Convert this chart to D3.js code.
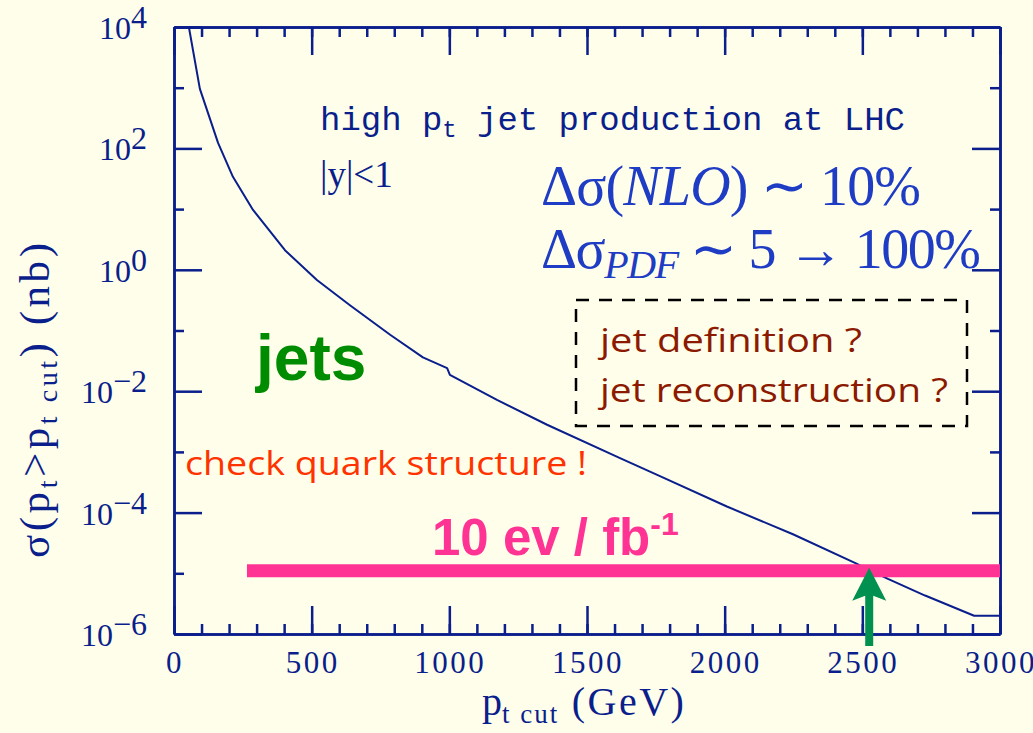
<!DOCTYPE html>
<html lang="en">
<head>
<meta charset="utf-8">
<title>high pt jet production at LHC</title>
<script src="https://cdn.jsdelivr.net/npm/d3@7"></script>
<style>
  body { margin: 0; background: #fffeea; }
  svg { display: block; }
</style>
</head>
<body>
<script>
  // size of the page
  const w = 1033;
  const h = 733;

  // pt cut (GeV) and sigma(pt > pt cut) in nb
  const ptCut = [54, 94, 120, 160, 214, 287, 403, 519, 639, 785, 904, 992, 1002, 1173,
                 1355, 1620, 1765, 2008, 2248, 2473, 2593, 2728, 2906, 3000];
  const sigma = [1e4, 955, 427, 123, 34, 9.7, 2.1, 0.68, 0.26, 0.085, 0.036, 0.024, 0.0186,
                 0.0072, 0.0028, 7.9e-4, 4.0e-4, 1.26e-4, 4.4e-5, 1.48e-5, 8.1e-6,
                 4.3e-6, 2.0e-6, 2.0e-6];

  // ticks
  const xMajor = [0, 500, 1000, 1500, 2000, 2500, 3000];
  const xMinor = d3.range(0, 3001, 100);
  const yMajorExp = [4, 2, 0, -2, -4, -6];
  const yMinorExp = [3, 1, -1, -3, -5];

  // 10 events / fb^-1 line and where it meets the curve
  const lumiLevel = 1.1e-5;
  const lumiFrom = 265;
  const lumiTo = 3000;
  const crossPt = 2525;

  const blue = "#0a1e8c";

  const svg = d3.select("body").append("svg")
    .attr("width", w)
    .attr("height", h);

  svg.append("rect").attr("width", w).attr("height", h).attr("fill", "#fffeea");

  const x = d3.scaleLinear().domain([0, 3000]).range([174, 1000]);
  const y = d3.scaleLog().domain([1e-6, 1e4]).range([634, 27]);

  // axes, ticks pointing inwards on all four sides
  function styleAxis(g) {
    g.selectAll("path, line").attr("stroke", blue).attr("stroke-width", 2.5);
    g.selectAll("text").remove();
  }
  const yBottom = y.range()[0], yTop = y.range()[1];
  const xLeft = x.range()[0], xRight = x.range()[1];

  svg.append("g").attr("transform", `translate(0,${yBottom})`)
    .call(d3.axisBottom(x).tickValues(xMinor).tickSize(-10).tickSizeOuter(0)).call(styleAxis);
  svg.append("g").attr("transform", `translate(0,${yBottom})`)
    .call(d3.axisBottom(x).tickValues(xMajor).tickSize(-28).tickSizeOuter(0)).call(styleAxis);
  svg.append("g").attr("transform", `translate(0,${yTop})`)
    .call(d3.axisTop(x).tickValues(xMinor).tickSize(-10).tickSizeOuter(0)).call(styleAxis);
  svg.append("g").attr("transform", `translate(0,${yTop})`)
    .call(d3.axisTop(x).tickValues(xMajor).tickSize(-28).tickSizeOuter(0)).call(styleAxis);

  const yMajor = yMajorExp.map(e => Math.pow(10, e));
  const yMinor = yMinorExp.map(e => Math.pow(10, e));
  svg.append("g").attr("transform", `translate(${xLeft},0)`)
    .call(d3.axisLeft(y).tickValues(yMinor).tickSize(-10).tickSizeOuter(0)).call(styleAxis);
  svg.append("g").attr("transform", `translate(${xLeft},0)`)
    .call(d3.axisLeft(y).tickValues(yMajor).tickSize(-28).tickSizeOuter(0)).call(styleAxis);
  svg.append("g").attr("transform", `translate(${xRight},0)`)
    .call(d3.axisRight(y).tickValues(yMinor).tickSize(-10).tickSizeOuter(0)).call(styleAxis);
  svg.append("g").attr("transform", `translate(${xRight},0)`)
    .call(d3.axisRight(y).tickValues(yMajor).tickSize(-28).tickSizeOuter(0)).call(styleAxis);

  // x tick labels
  svg.append("g").selectAll("text")
    .data(xMajor)
    .enter().append("text")
    .attr("x", d => x(d) + 1)
    .attr("y", yBottom + 39)
    .attr("text-anchor", "middle")
    .attr("font-family", "Liberation Serif")
    .attr("font-size", 31)
    .attr("letter-spacing", 2.5)
    .attr("fill", blue)
    .text(d => d);

  // y tick labels 10^n
  const yl = svg.append("g").selectAll("text")
    .data(yMajorExp)
    .enter().append("text")
    .attr("x", 147)
    .attr("y", d => y(Math.pow(10, d)) + 12)
    .attr("text-anchor", "end")
    .attr("font-family", "Liberation Serif")
    .attr("font-size", 32)
    .attr("fill", blue);
  yl.append("tspan").text("10");
  yl.append("tspan").attr("dy", -11).text(d => String(d).replace("-", "\u2212"));

  // axis titles
  const xt = svg.append("text")
    .attr("x", 482).attr("y", 715)
    .attr("font-family", "Liberation Serif")
    .attr("font-size", 40)
    .attr("fill", blue);
  xt.append("tspan").text("p");
  xt.append("tspan").attr("dy", 8).attr("font-size", 27).attr("letter-spacing", 2).text("t cut");
  xt.append("tspan").attr("dy", -8).attr("letter-spacing", 2.5).text(" (GeV)");

  const yt = svg.append("text")
    .attr("transform", "translate(49,558) rotate(-90)")
    .attr("font-family", "Liberation Serif")
    .attr("font-size", 43)
    .attr("fill", blue)
    .attr("textLength", 315)
    .attr("lengthAdjust", "spacing");
  yt.append("tspan").text("\u03c3(p");
  yt.append("tspan").attr("dy", 8).attr("font-size", 28).text("t");
  yt.append("tspan").attr("dy", -8).text(">p");
  yt.append("tspan").attr("dy", 8).attr("font-size", 28).text("t cut");
  yt.append("tspan").attr("dy", -8).text(")  (nb)");

  // cross section curve
  const curve = ptCut.map((p, i) => [p, sigma[i]]);
  svg.append("path")
    .datum(curve)
    .attr("fill", "none")
    .attr("stroke", blue)
    .attr("stroke-width", 2)
    .attr("stroke-linejoin", "round")
    .attr("d", d3.line().x(d => x(d[0])).y(d => y(d[1])));

  // 10 ev / fb^-1 line
  svg.append("line")
    .attr("x1", x(lumiFrom)).attr("x2", x(lumiTo))
    .attr("y1", y(lumiLevel)).attr("y2", y(lumiLevel))
    .attr("stroke", "#ff3393")
    .attr("stroke-width", 13);

  const lumiText = svg.append("text")
    .attr("x", 432).attr("y", 555)
    .attr("font-family", "Liberation Sans")
    .attr("font-weight", "bold")
    .attr("font-size", 51)
    .attr("fill", "#ff3393");
  lumiText.append("tspan").text("10 ev / fb");
  lumiText.append("tspan").attr("dy", -20).attr("font-size", 32).text("-1");

  // green arrow up to the crossing point
  const ax = x(crossPt);
  const tip = y(lumiLevel) - 3;
  const base = yBottom + 12;
  svg.append("path")
    .attr("d", `M${ax},${tip} L${ax + 17},${tip + 33} L${ax + 4},${tip + 28} L${ax + 4},${base}
                L${ax - 4},${base} L${ax - 4},${tip + 28} L${ax - 17},${tip + 33} Z`)
    .attr("fill", "#009150");

  // annotations
  svg.append("text")
    .attr("x", 320).attr("y", 130)
    .attr("font-family", "Liberation Mono")
    .attr("font-size", 34)
    .attr("fill", blue)
    .attr("textLength", 585)
    .attr("lengthAdjust", "spacing")
    .call(t => {
      t.append("tspan").text("high p");
      t.append("tspan").attr("dy", 7).attr("font-size", 24).text("t");
      t.append("tspan").attr("dy", -7).text(" jet production at LHC");
    });

  svg.append("text")
    .attr("x", 320).attr("y", 187)
    .attr("font-family", "Liberation Serif")
    .attr("font-size", 37)
    .attr("fill", blue)
    .text("|y|<1");

  const brightBlue = "#1f3cc4";
  svg.append("text")
    .attr("x", 541).attr("y", 205)
    .attr("font-family", "Liberation Serif")
    .attr("font-size", 56)
    .attr("fill", brightBlue)
    .attr("textLength", 380)
    .attr("lengthAdjust", "spacing")
    .call(t => {
      t.append("tspan").text("\u0394\u03c3(");
      t.append("tspan").attr("font-style", "italic").text("NLO");
      t.append("tspan").text(") \u223c 10%");
    });

  svg.append("text")
    .attr("x", 541).attr("y", 268)
    .attr("font-family", "Liberation Serif")
    .attr("font-size", 56)
    .attr("fill", brightBlue)
    .attr("textLength", 440)
    .attr("lengthAdjust", "spacing")
    .call(t => {
      t.append("tspan").text("\u0394\u03c3");
      t.append("tspan").attr("dy", 10).attr("font-size", 40).attr("font-style", "italic").text("PDF");
      t.append("tspan").attr("dy", -10).text(" \u223c 5 \u2192 100%");
    });

  svg.append("text")
    .attr("x", 256).attr("y", 380)
    .attr("font-family", "Liberation Sans")
    .attr("font-weight", "bold")
    .attr("font-size", 64)
    .attr("fill", "#008c00")
    .text("jets");

  svg.append("text")
    .attr("x", 185).attr("y", 475)
    .attr("font-family", "Open Sans")
    .attr("font-size", 32)
    .attr("fill", "#ff3300")
    .attr("textLength", 402)
    .attr("lengthAdjust", "spacingAndGlyphs")
    .text("check quark structure !");

  // dashed box with questions
  svg.append("rect")
    .attr("x", 576).attr("y", 300)
    .attr("width", 391).attr("height", 126)
    .attr("fill", "none")
    .attr("stroke", "#000")
    .attr("stroke-width", 2.5)
    .attr("stroke-dasharray", "13 10");

  svg.append("text")
    .attr("x", 600).attr("y", 352)
    .attr("font-family", "Open Sans")
    .attr("font-size", 32)
    .attr("fill", "#8c1a00")
    .attr("textLength", 262)
    .attr("lengthAdjust", "spacingAndGlyphs")
    .text("jet definition ?");

  svg.append("text")
    .attr("x", 600).attr("y", 402)
    .attr("font-family", "Open Sans")
    .attr("font-size", 32)
    .attr("fill", "#8c1a00")
    .attr("textLength", 348)
    .attr("lengthAdjust", "spacingAndGlyphs")
    .text("jet reconstruction ?");
</script>
</body>
</html>
